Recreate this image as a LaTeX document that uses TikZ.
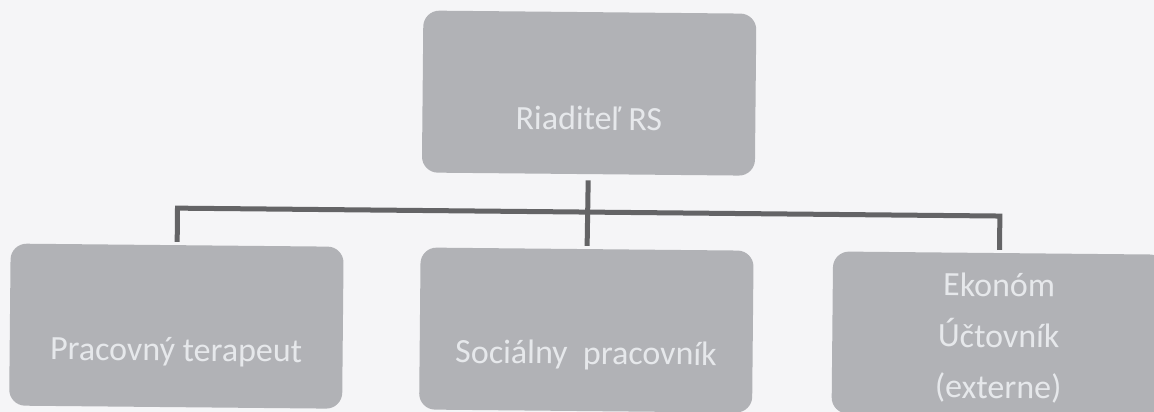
\documentclass[tikz,border=0pt]{standalone}
\usepackage{fontspec}
\setmainfont{Carlito}
\definecolor{bg}{RGB}{245,245,247}
\definecolor{boxfill}{RGB}{177,178,182}
\definecolor{boxtext}{RGB}{230,232,235}
\definecolor{linecol}{RGB}{100,100,102}
\begin{document}
\begin{tikzpicture}[x=1pt,y=-1pt,
  orgbox/.style={rectangle, rounded corners=16pt, fill=boxfill, minimum width=333pt, minimum height=162pt, inner sep=0pt},
  boxlabel/.style={text=boxtext, font=\fontsize{34}{51}\selectfont, align=center, inner sep=0pt},
  conn/.style={draw=linecol, line width=5pt}]
\fill[bg] (0,0) rectangle (1154,412);
\useasboundingbox (0,0) rectangle (1154,412);
\clip (0,0) rectangle (1154,412);
\begin{scope}[rotate around={-0.55:(577,210)}, transform shape]
  \node[orgbox] (dir) at (588,93) {};
  \node[boxlabel] (dirt) at ([yshift=-25pt]dir.center) {Riaditeľ RS};
  \node[orgbox] (left) at (177.5,330) {};
  \node[boxlabel] (leftt) at ([yshift=-26pt]left.center) {Pracovný terapeut};
  \node[orgbox] (mid) at (587.5,330) {};
  \node[boxlabel] (midt) at ([yshift=-25pt]mid.center) {Sociálny~ pracovník};
  \node[orgbox] (right) at (1000,330) {};
  \node[boxlabel] (rightt) at ([yshift=-4pt]right.center) {Ekonóm\\Účtovník\\(externe)};
  \coordinate (bus) at (588,212);
  \draw[conn, shorten <=6pt, shorten >=3pt] (dir.south) -- (mid.north);
  \draw[conn, shorten <=3pt, shorten >=3pt] (left.north) -- (left.north |- bus) -- (right.north |- bus) -- (right.north);
\end{scope}
\end{tikzpicture}
\end{document}
